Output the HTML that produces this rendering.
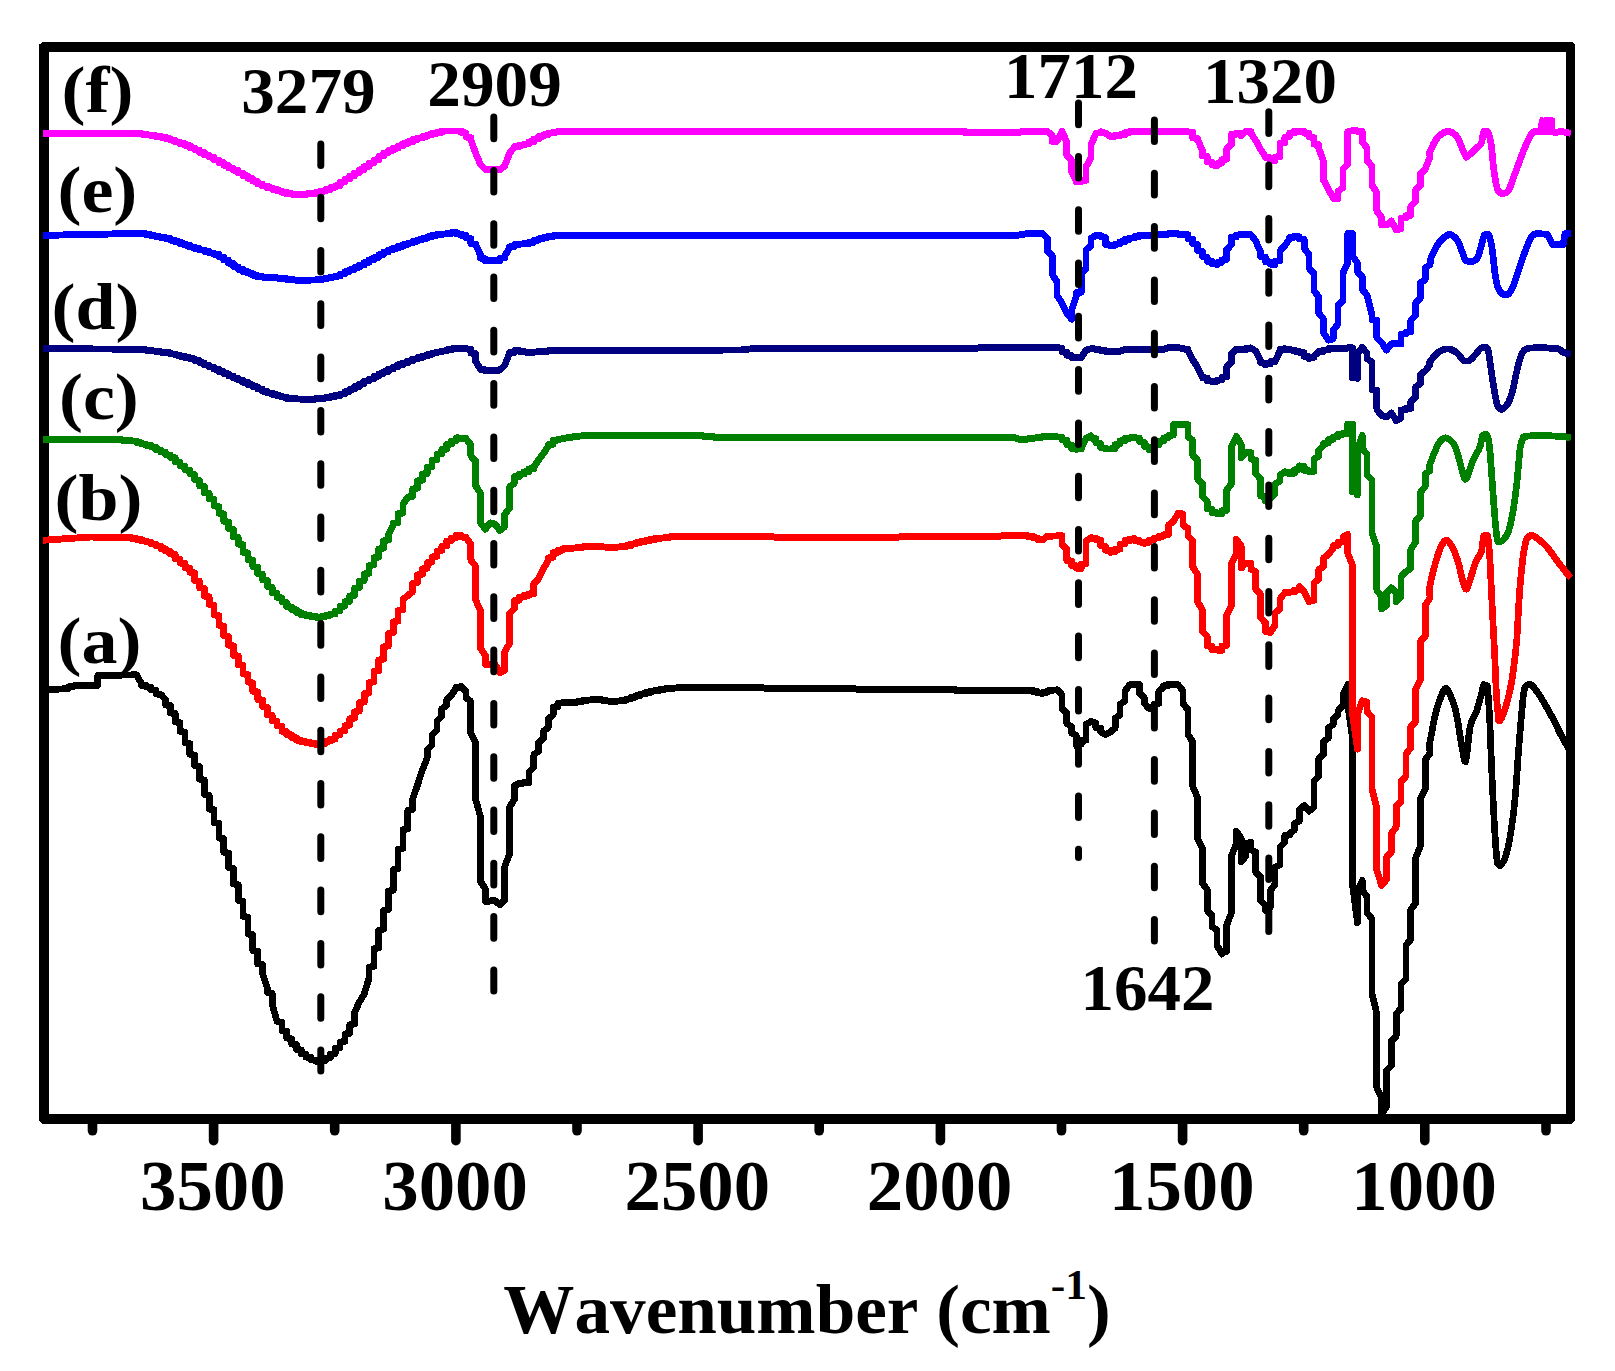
<!DOCTYPE html>
<html><head><meta charset="utf-8"><title>FTIR spectra</title>
<style>
html,body{margin:0;padding:0;background:#fff;}
svg{display:block;}
text{font-family:"Liberation Serif",serif;font-weight:bold;fill:#000;font-kerning:none;}
.c{shape-rendering:crispEdges;fill:none;stroke-width:6.7;stroke-linejoin:round;stroke-linecap:butt;}
.d{stroke:#000;stroke-width:7;fill:none;stroke-linecap:round}
.t{stroke:#000;stroke-width:9.6;stroke-linecap:round;}
</style></head><body>
<svg width="1615" height="1371" viewBox="0 0 1615 1371">
<rect x="0" y="0" width="1615" height="1371" fill="#fff"/>
<path shape-rendering="crispEdges" fill="#000" fill-rule="evenodd" d="M42.5 41.9H1572L1575 44.9V1120.8L1572 1123.8H42L39 1120.8V44.9ZM49 51.9V1113.9H1566.1V51.9Z"/>
<line class="t" x1="213.6" y1="1122" x2="213.6" y2="1140.7"/>
<line class="t" x1="455.9" y1="1122" x2="455.9" y2="1140.7"/>
<line class="t" x1="698.1" y1="1122" x2="698.1" y2="1140.7"/>
<line class="t" x1="940.4" y1="1122" x2="940.4" y2="1140.7"/>
<line class="t" x1="1182.6" y1="1122" x2="1182.6" y2="1140.7"/>
<line class="t" x1="1424.8" y1="1122" x2="1424.8" y2="1140.7"/>
<line class="t" x1="92.5" y1="1122" x2="92.5" y2="1130.8"/>
<line class="t" x1="334.7" y1="1122" x2="334.7" y2="1130.8"/>
<line class="t" x1="577.0" y1="1122" x2="577.0" y2="1130.8"/>
<line class="t" x1="819.2" y1="1122" x2="819.2" y2="1130.8"/>
<line class="t" x1="1061.5" y1="1122" x2="1061.5" y2="1130.8"/>
<line class="t" x1="1303.7" y1="1122" x2="1303.7" y2="1130.8"/>
<line class="t" x1="1546.0" y1="1122" x2="1546.0" y2="1130.8"/>
<g transform="scale(1 1.03)">
<polyline class="c" stroke="#000000" points="43,669.13 49.31,669.13 49.31,669.03 54.15,669.03 59,669.03 59,668.93 63.84,668.93 63.84,668.54 68.69,668.16 68.69,666.80 73.53,666.41 73.53,665.92 78.38,665.92 78.38,665.73 83.22,665.73 83.22,665.63 88.07,665.63 88.07,665.53 92.91,665.44 92.91,665.34 97.76,665.34 97.76,655.73 102.6,655.73 102.6,655.63 107.45,655.63 107.45,655.53 112.29,655.53 117.14,655.53 117.14,655.44 121.98,655.44 121.98,655.34 126.83,655.34 131.67,655.34 131.67,655.24 136.51,655.24 141.36,663.50 141.36,665.24 146.21,665.53 146.21,666.99 151.05,667.28 151.05,669.51 155.9,670.10 155.9,673.69 160.74,674.27 165.59,679.13 165.59,684.37 170.43,685.15 170.43,692.14 175.28,692.91 175.28,700.87 180.12,701.75 180.12,710.00 184.97,710.78 184.97,721.17 189.81,721.94 189.81,732.23 194.66,733.11 194.66,743.30 199.5,744.17 199.5,756.41 204.34,757.28 204.34,771.36 209.19,772.23 209.19,785.44 214.03,786.31 214.03,798.64 218.88,799.51 218.88,813.50 223.72,814.37 223.72,827.48 228.57,828.35 228.57,842.33 233.41,843.20 233.41,858.16 238.26,859.03 238.26,874.17 243.1,875.15 243.1,889.51 247.95,890.39 247.95,906.70 252.79,907.57 252.79,922.91 257.64,923.69 257.64,935.73 262.49,936.60 262.49,945.15 267.33,959.22 267.33,963.50 272.18,964.37 272.18,974.76 277.02,991.75 281.87,992.52 281.87,1000.39 286.71,1001.17 286.71,1007.77 291.56,1008.54 291.56,1013.50 296.4,1014.17 296.4,1018.83 301.25,1019.42 301.25,1023.01 306.09,1023.59 306.09,1026.31 310.94,1026.70 310.94,1028.83 315.78,1029.32 315.78,1030.29 320.62,1030.39 320.62,1030.68 320.62,1029.81 325.47,1029.51 325.47,1027.57 330.31,1026.99 330.31,1023.79 335.16,1023.01 335.16,1017.86 340,1017.09 340,1011.84 344.85,1011.07 344.85,1003.98 349.69,1003.11 349.69,994.95 354.54,994.08 354.54,983.01 359.38,972.82 364.23,965.05 369.07,949.51 369.07,939.03 373.92,938.16 373.92,921.17 378.76,920.29 378.76,903.11 383.61,902.14 383.61,884.08 388.45,883.20 388.45,865.24 393.3,864.27 393.3,844.37 398.14,843.50 398.14,824.56 402.99,823.69 402.99,805.63 407.83,804.76 407.83,786.60 412.68,785.73 412.68,775.73 417.52,762.14 422.37,747.57 427.21,735.92 427.21,727.96 432.06,723.20 432.06,713.59 436.9,708.74 436.9,700.29 441.75,695.44 441.75,688.25 446.6,684.66 446.6,679.81 451.44,675.05 456.28,667.77 456.28,667.28 461.13,667.09 461.13,666.60 465.97,671.36 465.97,677.38 470.82,681.07 470.82,712.33 475.66,720.78 475.66,776.21 480.51,793.11 480.51,855.73 485.35,862.91 485.35,874.95 485.35,874.85 490.2,874.85 490.2,874.66 495.04,874.56 495.04,874.47 499.89,878.54 504.73,873.79 504.73,841.26 509.58,829.22 509.58,783.50 514.42,776.21 514.42,763.01 519.27,760.58 519.27,760.39 524.12,760.29 524.12,759.81 528.96,759.71 528.96,749.71 533.81,744.95 533.81,732.82 538.65,729.22 538.65,720.78 543.5,717.18 543.5,709.90 548.34,706.31 548.34,697.86 553.18,694.27 553.18,686.50 558.03,686.02 558.03,682.82 562.88,682.23 562.88,682.14 567.72,682.04 567.72,681.94 572.57,681.94 572.57,681.84 577.41,681.75 577.41,681.26 582.25,681.17 582.25,680.39 587.1,680.29 587.1,679.71 591.94,679.51 591.94,678.93 596.79,678.83 596.79,678.64 596.79,679.13 601.63,679.22 601.63,679.81 606.48,680.00 606.48,680.58 611.33,680.78 611.33,681.07 611.33,680.87 616.17,680.87 616.17,680.58 621.01,680.49 621.01,680.29 625.86,680.00 625.86,678.83 630.7,678.54 630.7,677.09 635.55,676.80 635.55,675.63 640.39,675.34 640.39,673.88 645.24,673.69 645.24,672.52 650.09,672.23 650.09,671.07 654.93,670.87 654.93,670.29 659.77,670.19 659.77,669.61 664.62,669.42 664.62,668.74 669.46,668.54 669.46,668.25 674.31,668.16 674.31,667.96 679.15,667.86 679.15,667.57 684,667.48 684,667.28 688.85,667.28 693.69,667.28 698.53,667.28 703.38,667.28 708.22,667.28 713.07,667.28 717.91,667.28 722.76,667.28 727.61,667.28 732.45,667.28 737.29,667.28 742.14,667.28 746.99,667.28 751.83,667.28 756.67,667.28 761.52,667.28 766.37,668.54 771.21,668.54 776.05,668.54 780.9,668.54 780.9,668.45 785.75,668.45 790.59,668.45 795.43,668.45 800.28,668.45 805.12,668.45 809.97,668.45 809.97,668.35 814.81,668.35 819.66,668.35 824.5,668.35 829.35,668.35 834.19,668.35 839.04,668.35 839.04,668.25 843.88,668.25 848.73,668.25 853.57,668.25 858.42,669.51 863.26,669.51 868.11,669.51 872.95,669.51 877.8,669.42 882.64,669.42 887.49,669.42 892.33,669.42 897.18,669.42 902.02,669.42 906.87,669.42 906.87,669.32 911.71,669.32 916.56,669.32 921.4,669.32 926.25,669.32 931.09,669.32 935.94,669.32 935.94,669.22 940.78,669.22 945.63,669.22 950.47,669.22 955.32,669.22 955.32,670.19 960.16,670.19 965.01,670.19 969.85,670.19 974.7,670.19 979.54,670.19 984.39,670.19 989.24,670.19 994.08,670.19 998.92,670.19 1003.77,670.19 1008.62,670.19 1013.46,670.19 1018.3,670.19 1023.15,670.19 1027.99,670.19 1032.84,670.19 1032.84,671.36 1037.68,671.65 1037.68,672.72 1042.53,673.01 1042.53,673.30 1042.53,672.23 1047.38,671.94 1047.38,670.78 1052.22,670.58 1052.22,670.00 1057.07,669.81 1057.07,669.71 1061.91,674.47 1061.91,687.77 1066.76,692.52 1066.76,702.14 1071.6,705.83 1071.6,711.84 1076.44,714.17 1076.44,723.88 1076.44,722.82 1081.29,722.23 1081.29,718.93 1086.13,718.45 1086.13,703.40 1090.98,700.49 1095.82,702.14 1095.82,706.31 1100.67,707.09 1100.67,710.58 1105.51,713.01 1110.36,710.58 1115.2,706.99 1115.2,697.38 1120.05,693.79 1120.05,684.08 1124.89,680.49 1124.89,670.87 1129.74,664.85 1134.59,664.85 1139.43,664.85 1139.43,673.30 1144.28,676.89 1144.28,682.91 1149.12,687.77 1149.12,687.18 1153.96,686.60 1153.96,683.59 1158.81,682.91 1158.81,670.87 1163.65,667.28 1163.65,665.83 1168.5,665.44 1168.5,664.37 1168.5,664.47 1173.34,664.47 1173.34,664.76 1178.19,664.85 1183.03,670.87 1183.03,682.91 1187.88,688.93 1187.88,713.01 1192.72,720.19 1192.72,763.59 1197.57,774.37 1197.57,814.08 1202.41,823.79 1202.41,857.48 1207.26,863.50 1207.26,883.98 1212.11,888.74 1212.11,899.61 1216.95,903.20 1216.95,917.67 1221.8,926.12 1221.8,924.27 1226.64,923.79 1226.64,898.35 1231.48,886.31 1231.48,830.97 1236.33,818.93 1236.33,806.89 1241.17,814.08 1241.17,836.99 1246.02,830.97 1246.02,818.93 1250.87,817.77 1250.87,824.95 1255.71,827.38 1255.71,846.60 1260.55,851.46 1260.55,874.27 1265.4,879.13 1265.4,883.98 1270.24,881.55 1270.24,864.66 1275.09,858.64 1275.09,841.84 1279.93,839.42 1279.93,822.52 1284.78,817.77 1284.78,811.07 1289.62,810.68 1289.62,809.32 1294.47,805.73 1294.47,799.71 1299.32,797.28 1299.32,786.31 1304.16,782.23 1309,787.48 1313.85,783.88 1313.85,758.64 1318.69,753.79 1318.69,736.89 1323.54,732.14 1323.54,720.10 1328.38,716.50 1328.38,706.80 1333.23,703.20 1333.23,698.45 1338.08,693.59 1338.08,690.00 1342.92,685.15 1342.92,674.37 1347.76,664.66 1347.76,683.98 1352.61,717.67 1352.61,859.71 1357.45,895.83 1357.45,864.56 1362.3,854.95 1362.3,864.56 1367.14,870.58 1367.14,886.21 1371.99,892.23 1371.99,964.85 1376.84,984.17 1376.84,1056.31 1381.68,1066.02 1381.68,1081.55 1386.52,1074.47 1386.52,1039.51 1391.37,1034.66 1391.37,1010.68 1396.21,1005.83 1396.21,984.17 1401.06,979.32 1401.06,955.24 1405.9,950.49 1405.9,917.96 1410.75,911.94 1410.75,883.01 1415.6,876.99 1415.6,833.20 1420.44,821.17 1420.44,775.44 1425.28,765.83 1425.28,737.38 1430.13,731.17 1429.24,724.27 1430.5,717.67 1431.69,711.46 1432.92,705.15 1434.16,699.03 1435.4,693.59 1436.63,688.93 1437.87,684.85 1439.12,681.26 1440.4,677.96 1441.71,674.66 1443.06,671.55 1444.42,669.22 1445.8,668.35 1447.22,669.22 1448.67,671.55 1450.12,674.66 1451.5,677.96 1452.8,681.17 1454.04,684.56 1455.27,688.64 1456.5,693.59 1457.77,700.19 1459.05,707.96 1460.31,715.73 1461.5,722.43 1462.6,728.64 1463.64,734.76 1464.65,738.93 1465.7,739.32 1466.74,733.98 1467.78,724.47 1468.87,713.88 1470.1,705.63 1471.55,700.68 1473.16,697.38 1474.79,694.47 1476.3,691.17 1477.69,686.99 1479.03,682.43 1480.25,678.16 1481.3,674.37 1482.07,671.17 1482.63,668.35 1483.15,666.12 1483.8,664.66 1487.5,665.92 1489.5,693.59 1490.08,706.50 1490.69,721.94 1491.34,738.35 1492,753.79 1492.71,768.54 1493.45,783.40 1494.19,797.28 1494.9,809.13 1495.55,818.83 1496.18,826.89 1496.78,833.30 1497.4,838.06 1499.9,840.49 1500.98,839.61 1502.25,838.16 1503.6,836.12 1504.9,833.20 1506.13,829.61 1507.35,825.44 1508.57,820.29 1509.8,813.98 1511.07,806.41 1512.37,797.77 1513.64,788.16 1514.8,777.86 1515.82,766.60 1516.73,754.27 1517.61,741.65 1518.5,729.71 1519.45,717.96 1520.42,706.21 1521.36,695.34 1522.2,686.41 1522.85,679.81 1523.37,674.95 1523.93,671.26 1524.7,668.35 1525.78,666.21 1527.05,665.15 1528.4,664.76 1529.7,664.66 1530.87,664.85 1531.99,665.63 1533.19,666.80 1534.6,668.35 1536.24,670.39 1538.04,672.91 1540,675.83 1542.1,679.13 1544.41,682.91 1546.9,687.09 1549.47,691.46 1552,696.02 1554.5,700.78 1557.03,705.83 1559.51,710.68 1561.9,715.24 1564.36,719.51 1566.87,723.69 1569.06,727.18 1570.8,729.71"/>
<polyline class="c" stroke="#ff0000" points="43,524.37 49.31,524.27 49.31,524.08 54.15,523.98 54.15,523.69 59,523.59 59,523.40 63.84,523.30 63.84,523.01 68.69,522.91 68.69,522.72 73.53,522.62 73.53,522.33 78.38,522.33 78.38,522.04 83.22,521.94 83.22,521.65 88.07,521.65 88.07,521.36 92.91,521.36 92.91,521.46 97.76,521.46 97.76,521.55 102.6,521.55 102.6,521.65 107.45,521.65 107.45,521.75 112.29,521.75 112.29,521.84 117.14,521.84 117.14,521.94 121.98,521.94 121.98,522.04 126.83,522.04 131.67,522.14 131.67,522.62 136.51,522.82 136.51,523.69 141.36,523.88 141.36,525.05 146.21,525.24 146.21,526.12 151.05,526.31 151.05,527.86 155.9,528.25 155.9,529.90 160.74,530.29 160.74,532.43 165.59,532.82 165.59,534.95 170.43,535.34 170.43,537.86 175.28,538.45 175.28,542.23 180.12,542.82 180.12,546.60 184.97,547.18 184.97,550.97 189.81,551.55 189.81,555.44 194.66,556.31 194.66,563.50 199.5,564.27 199.5,570.68 204.34,571.46 204.34,578.74 209.19,579.51 209.19,586.80 214.03,587.57 214.03,596.89 218.88,597.77 218.88,607.09 223.72,607.86 223.72,617.18 228.57,618.06 228.57,626.31 233.41,627.09 233.41,636.21 238.26,636.99 238.26,645.24 243.1,646.12 243.1,654.17 247.95,654.95 247.95,662.14 252.79,663.01 252.79,670.97 257.64,671.84 257.64,678.93 262.49,679.71 262.49,686.02 267.33,686.80 267.33,693.88 272.18,694.66 272.18,699.51 277.02,700.19 277.02,704.37 281.87,705.05 281.87,709.81 286.71,710.49 286.71,713.01 291.56,713.50 291.56,715.83 296.4,716.31 296.4,718.54 301.25,719.03 301.25,720.00 306.09,720.19 306.09,720.87 310.94,721.07 310.94,721.84 315.78,721.94 315.78,722.72 320.62,722.82 320.62,723.20 320.62,722.04 325.47,721.65 325.47,719.81 330.31,719.42 330.31,717.86 335.16,717.48 335.16,714.08 340,713.50 340,709.81 344.85,709.22 344.85,704.56 349.69,703.98 349.69,697.96 354.54,697.18 354.54,691.07 359.38,690.29 359.38,682.33 364.23,681.55 364.23,673.59 369.07,672.72 369.07,662.82 373.92,662.04 373.92,651.94 378.76,651.07 378.76,640.87 383.61,640.00 383.61,627.96 388.45,627.09 388.45,614.95 393.3,614.08 393.3,603.79 398.14,602.91 398.14,592.82 402.99,591.94 402.99,582.04 412.68,574.37 412.68,566.31 417.52,565.53 417.52,558.25 422.37,557.48 422.37,552.33 427.21,551.55 427.21,546.41 432.06,545.63 432.06,540.78 436.9,540.00 436.9,535.15 441.75,534.47 441.75,530.58 446.6,529.90 446.6,525.44 451.44,524.76 451.44,522.43 456.28,522.04 456.28,519.71 461.13,520.00 461.13,521.36 465.97,521.55 465.97,522.14 470.82,528.16 470.82,543.79 475.66,549.81 475.66,582.33 480.51,593.20 480.51,629.22 485.35,636.50 485.35,644.95 490.2,644.95 495.04,644.95 499.89,653.30 504.73,650.97 504.73,632.91 509.58,624.47 509.58,595.53 514.42,590.78 514.42,583.01 519.27,582.62 519.27,579.90 524.12,579.61 524.12,578.25 528.96,577.96 528.96,576.60 533.81,576.31 533.81,566.70 538.65,561.84 543.5,552.23 548.34,543.79 548.34,541.65 553.18,540.87 553.18,536.60 558.03,536.21 558.03,534.47 562.88,534.08 562.88,532.91 567.72,532.82 567.72,532.43 572.57,532.33 572.57,532.04 577.41,531.94 577.41,531.46 582.25,531.36 582.25,530.97 587.1,530.87 587.1,530.58 591.94,530.58 591.94,530.29 596.79,530.19 596.79,530.10 596.79,530.39 601.63,530.49 601.63,530.97 606.48,531.07 606.48,531.46 611.33,531.55 611.33,531.75 611.33,531.55 616.17,531.46 616.17,531.17 621.01,531.07 621.01,530.78 625.86,530.68 625.86,530.00 630.7,529.81 630.7,528.35 635.55,528.16 635.55,526.99 640.39,526.80 640.39,525.83 645.24,525.63 645.24,524.95 650.09,524.76 650.09,523.88 654.93,523.69 654.93,523.01 659.77,522.82 659.77,522.43 664.62,522.33 664.62,521.84 669.46,521.75 669.46,521.26 674.31,521.17 674.31,521.07 679.15,520.97 679.15,520.87 684,520.78 684,520.68 688.85,520.68 693.69,520.68 698.53,520.68 703.38,520.68 708.22,520.68 713.07,520.68 717.91,520.68 722.76,520.68 727.61,520.68 732.45,520.68 737.29,520.68 742.14,520.68 746.99,520.68 751.83,520.68 756.67,520.68 761.52,520.68 766.37,520.68 771.21,520.68 776.05,521.84 780.9,521.84 785.75,521.84 790.59,521.84 795.43,521.84 800.28,521.84 805.12,521.84 809.97,521.84 814.81,521.84 819.66,521.84 824.5,521.84 829.35,521.84 834.19,521.84 839.04,521.84 843.88,521.84 848.73,521.84 853.57,521.84 858.42,521.84 863.26,521.84 868.11,521.84 872.95,521.84 877.8,521.84 882.64,521.84 887.49,521.84 892.33,521.84 897.18,521.84 902.02,520.78 906.87,520.78 911.71,520.78 916.56,520.78 921.4,520.78 926.25,520.78 931.09,520.78 935.94,520.78 940.78,520.78 945.63,520.78 950.47,520.78 955.32,520.78 960.16,520.78 965.01,520.78 969.85,520.78 974.7,520.78 979.54,520.78 984.39,520.78 989.24,520.78 994.08,520.78 998.92,520.78 1003.77,519.81 1008.62,519.90 1013.46,519.90 1013.46,520.00 1018.3,520.00 1018.3,520.10 1023.15,520.10 1023.15,520.19 1027.99,520.19 1027.99,520.78 1032.84,520.97 1032.84,522.14 1037.68,522.33 1037.68,523.69 1042.53,523.98 1042.53,524.27 1047.38,520.68 1047.38,520.58 1052.22,520.49 1052.22,520.39 1057.07,520.39 1057.07,520.19 1061.91,520.19 1061.91,529.13 1066.76,532.72 1066.76,544.08 1071.6,544.76 1071.6,548.83 1076.44,549.32 1076.44,551.55 1081.29,552.04 1081.29,547.86 1086.13,547.18 1086.13,525.53 1090.98,521.94 1090.98,522.43 1095.82,522.72 1095.82,523.98 1100.67,524.27 1100.67,529.90 1105.51,530.58 1105.51,534.08 1110.36,534.47 1110.36,536.31 1110.36,535.92 1115.2,535.53 1115.2,533.50 1120.05,533.11 1120.05,528.45 1124.89,527.67 1124.89,524.95 1129.74,524.76 1129.74,523.40 1134.59,523.11 1134.59,524.66 1139.43,524.95 1139.43,526.21 1144.28,526.50 1144.28,527.48 1144.28,526.70 1149.12,526.41 1149.12,524.56 1153.96,524.17 1153.96,522.52 1158.81,522.14 1158.81,520.87 1163.65,520.58 1163.65,519.32 1168.5,519.03 1168.5,509.90 1173.34,506.21 1178.19,498.35 1183.03,499.03 1183.03,509.90 1187.88,513.01 1187.88,520.19 1192.72,525.05 1192.72,550.29 1197.57,557.57 1197.57,583.98 1202.41,592.43 1202.41,612.91 1207.26,617.77 1207.26,627.18 1212.11,627.77 1212.11,630.58 1216.95,630.68 1216.95,631.17 1221.8,631.36 1221.8,631.46 1221.8,627.28 1226.64,626.60 1226.64,597.28 1231.48,587.67 1231.48,546.70 1236.33,538.25 1236.33,523.79 1241.17,529.81 1241.17,551.55 1246.02,546.70 1250.87,546.70 1250.87,552.72 1255.71,555.15 1255.71,571.94 1260.55,576.80 1260.55,599.71 1265.4,604.47 1265.4,612.91 1270.24,614.08 1275.09,606.89 1275.09,594.85 1279.93,591.26 1279.93,581.65 1284.78,575.63 1284.78,575.34 1289.62,575.24 1289.62,574.76 1294.47,574.66 1294.47,572.91 1299.32,572.43 1299.32,569.61 1304.16,574.37 1309,583.98 1313.85,582.82 1313.85,565.92 1318.69,562.33 1318.69,552.72 1323.54,550.29 1323.54,541.84 1328.38,538.25 1333.23,532.23 1333.23,529.90 1338.08,529.42 1338.08,526.70 1342.92,526.21 1342.92,521.46 1347.76,519.03 1347.76,537.09 1352.61,549.13 1352.61,693.59 1357.45,727.28 1357.45,693.59 1362.3,680.39 1367.14,681.55 1367.14,691.17 1371.99,696.02 1371.99,765.83 1376.84,785.05 1376.84,845.24 1381.68,859.71 1386.52,853.69 1386.52,832.04 1391.37,827.18 1391.37,809.13 1396.21,803.11 1396.21,782.72 1401.06,777.86 1401.06,758.64 1405.9,753.79 1405.9,732.14 1410.75,726.12 1410.75,705.63 1415.6,700.78 1415.6,669.51 1420.44,659.90 1420.44,622.52 1425.28,617.77 1425.28,587.48 1430.13,580.39 1429.24,572.62 1430.5,565.92 1431.69,560.49 1432.92,555.53 1434.16,550.97 1435.4,546.70 1436.63,542.62 1437.87,538.74 1439.12,535.24 1440.4,532.23 1441.71,529.51 1443.06,527.18 1444.42,525.44 1445.8,524.56 1447.19,524.76 1448.6,525.83 1450.03,527.57 1451.5,529.81 1453.04,532.62 1454.64,536.12 1456.22,540.10 1457.7,544.27 1459.06,549.03 1460.36,554.27 1461.57,559.42 1462.7,563.59 1463.69,566.99 1464.55,569.81 1465.41,571.65 1466.4,571.94 1467.56,570.19 1468.83,566.80 1470.13,562.62 1471.4,558.74 1472.63,555.05 1473.85,551.17 1475.07,547.48 1476.3,544.27 1477.6,541.94 1478.95,540.10 1480.22,538.35 1481.3,535.83 1482.07,532.04 1482.63,527.48 1483.15,523.20 1483.8,520.19 1487.5,520.19 1488.22,524.08 1488.86,529.71 1489.44,536.50 1490,544.27 1492,585.24 1492.69,598.54 1493.47,613.30 1494.25,627.96 1494.9,640.78 1496.5,676.70 1498.7,699.61 1499.97,699.61 1501.55,697.09 1503.26,693.20 1504.9,688.74 1506.5,683.79 1508.12,677.86 1509.69,671.36 1511.1,664.66 1512.35,657.48 1513.49,649.61 1514.49,642.14 1515.3,635.83 1516.8,621.36 1517.41,611.36 1518.11,598.64 1518.88,585.15 1519.7,573.20 1520.62,562.72 1521.63,552.91 1522.63,544.17 1523.5,537.09 1525.9,525.05 1526.94,523.01 1528.16,521.46 1529.5,520.29 1530.9,519.71 1532.28,519.71 1533.69,520.29 1535.26,521.26 1537.1,522.62 1539.31,524.27 1541.82,526.21 1544.44,528.45 1547,531.07 1549.39,533.98 1551.71,537.18 1554.16,540.58 1556.9,544.27 1560.38,548.64 1564.37,553.59 1568.05,558.06 1570.8,561.17"/>
<polyline class="c" stroke="#008000" points="43,426.99 49.31,426.99 49.31,426.89 54.15,426.89 59,426.89 63.84,426.89 63.84,426.80 68.69,426.80 73.53,426.80 78.38,426.80 78.38,426.70 83.22,426.70 88.07,426.70 92.91,426.70 92.91,426.60 97.76,426.60 102.6,426.60 107.45,426.60 107.45,426.50 112.29,426.50 117.14,426.60 117.14,426.89 121.98,426.99 121.98,427.38 126.83,427.38 126.83,427.77 131.67,427.86 131.67,428.16 136.51,428.25 136.51,429.61 141.36,429.90 141.36,430.97 146.21,431.26 146.21,432.33 151.05,432.62 151.05,433.98 155.9,434.27 155.9,436.50 160.74,436.99 160.74,438.74 165.59,439.22 165.59,441.46 170.43,441.94 170.43,444.17 175.28,444.56 175.28,448.06 180.12,448.64 180.12,452.33 184.97,452.91 184.97,455.92 189.81,456.50 189.81,460.10 194.66,460.78 194.66,465.63 199.5,466.41 199.5,471.55 204.34,472.33 204.34,478.25 209.19,479.03 209.19,484.17 214.03,484.95 214.03,491.17 218.88,491.94 218.88,498.25 223.72,499.03 223.72,506.12 228.57,506.89 228.57,513.30 233.41,514.08 233.41,521.17 238.26,521.94 238.26,528.25 243.1,529.03 243.1,536.12 247.95,536.89 247.95,543.11 252.79,543.79 252.79,550.00 257.64,550.78 257.64,556.89 262.49,557.57 262.49,562.82 267.33,563.50 267.33,569.42 272.18,570.19 272.18,575.24 277.02,575.83 277.02,579.81 281.87,580.49 281.87,584.37 286.71,585.05 286.71,588.83 291.56,589.32 291.56,591.65 296.4,592.14 296.4,594.47 301.25,594.95 301.25,596.80 306.09,596.99 306.09,597.67 310.94,597.86 310.94,598.45 315.78,598.54 315.78,599.13 320.62,599.32 320.62,599.61 320.62,598.83 325.47,598.54 325.47,597.57 330.31,597.28 330.31,596.31 335.16,596.02 335.16,593.59 340,592.91 340,588.93 344.85,588.35 344.85,584.37 349.69,583.69 349.69,578.74 354.54,578.06 354.54,571.17 359.38,570.39 359.38,564.27 364.23,563.50 364.23,557.28 369.07,556.50 369.07,549.22 373.92,548.45 373.92,541.46 378.76,540.78 378.76,533.01 383.61,532.23 383.61,525.05 388.45,524.27 388.45,519.42 393.3,509.71 393.3,508.06 398.14,507.18 398.14,498.83 402.99,498.06 402.99,489.71 407.83,482.52 412.68,481.75 412.68,474.76 417.52,473.98 417.52,466.99 422.37,466.21 422.37,460.29 427.21,459.61 427.21,453.69 432.06,452.91 432.06,446.99 436.9,446.21 436.9,441.07 441.75,440.29 441.75,436.60 446.6,436.02 446.6,431.65 451.44,431.07 451.44,428.35 456.28,427.86 456.28,425.15 461.13,425.24 461.13,425.53 465.97,425.63 465.97,425.83 470.82,431.84 470.82,442.72 475.66,447.48 475.66,471.55 480.51,478.83 480.51,507.67 485.35,513.69 490.2,507.67 495.04,508.93 499.89,514.95 504.73,511.26 504.73,499.22 509.58,493.20 509.58,472.82 514.42,469.13 514.42,462.72 519.27,462.43 519.27,460.58 524.12,460.19 524.12,458.16 528.96,457.67 528.96,455.34 533.81,454.85 533.81,453.50 538.65,446.31 543.5,440.29 548.34,433.01 548.34,431.75 553.18,431.17 553.18,427.48 558.03,427.28 558.03,426.31 562.88,426.12 562.88,425.44 567.72,425.24 567.72,424.56 572.57,424.47 572.57,424.08 577.41,423.98 577.41,423.40 582.25,423.30 582.25,422.91 587.1,422.82 587.1,422.72 591.94,422.72 596.79,422.72 601.63,422.72 606.48,422.72 611.33,422.72 616.17,422.72 621.01,422.72 625.86,422.72 630.7,422.72 635.55,422.72 640.39,422.72 645.24,422.72 650.09,422.72 654.93,422.72 659.77,422.72 664.62,422.72 669.46,422.72 674.31,422.72 679.15,422.72 684,422.72 688.85,422.72 693.69,422.72 698.53,422.72 698.53,423.01 703.38,423.11 703.38,423.50 708.22,423.59 708.22,423.88 713.07,423.98 713.07,424.37 717.91,424.47 717.91,424.66 722.76,424.66 727.61,424.66 732.45,424.66 732.45,424.56 737.29,424.56 742.14,424.56 746.99,424.56 751.83,424.56 756.67,424.56 756.67,424.47 761.52,424.47 766.37,424.47 771.21,424.47 776.05,424.47 780.9,424.47 785.75,424.47 785.75,424.37 790.59,424.37 795.43,424.37 800.28,424.37 805.12,424.37 809.97,424.37 814.81,424.37 819.66,424.37 824.5,424.37 829.35,424.37 834.19,424.37 839.04,424.37 843.88,424.37 848.73,424.37 853.57,424.37 858.42,424.37 863.26,424.37 868.11,424.37 872.95,424.37 877.8,424.37 882.64,424.37 887.49,424.37 892.33,424.37 897.18,424.37 902.02,424.37 906.87,424.37 911.71,424.37 916.56,424.37 921.4,424.37 926.25,424.37 931.09,424.37 935.94,424.37 940.78,424.37 945.63,424.37 950.47,424.37 955.32,424.37 960.16,424.37 965.01,424.37 969.85,424.37 974.7,424.37 979.54,424.37 984.39,424.37 989.24,424.37 994.08,424.37 998.92,424.37 1003.77,424.37 1008.62,424.37 1013.46,424.37 1018.3,426.31 1023.15,426.31 1027.99,426.31 1027.99,426.02 1032.84,425.83 1032.84,425.24 1037.68,425.15 1037.68,424.47 1042.53,424.37 1042.53,423.88 1042.53,423.98 1047.38,423.98 1047.38,424.08 1052.22,424.08 1052.22,424.17 1057.07,424.17 1057.07,424.27 1061.91,424.37 1061.91,426.80 1066.76,427.38 1066.76,431.46 1071.6,432.04 1071.6,435.34 1076.44,435.83 1076.44,436.41 1076.44,436.02 1081.29,435.83 1081.29,435.24 1086.13,425.63 1090.98,423.20 1090.98,425.34 1095.82,425.83 1095.82,430.00 1100.67,430.58 1100.67,434.56 1105.51,435.24 1105.51,435.92 1110.36,435.92 1115.2,435.34 1115.2,431.65 1120.05,431.07 1120.05,428.06 1124.89,427.67 1124.89,425.63 1129.74,425.53 1129.74,425.05 1134.59,424.85 1134.59,424.37 1134.59,424.95 1139.43,425.44 1139.43,428.74 1144.28,429.32 1144.28,433.40 1149.12,433.98 1149.12,436.41 1149.12,435.44 1153.96,434.95 1153.96,432.14 1158.81,431.65 1158.81,428.64 1163.65,428.06 1163.65,425.24 1168.5,424.85 1168.5,422.72 1173.34,422.33 1173.34,412.33 1178.19,412.33 1183.03,412.33 1187.88,412.33 1187.88,423.88 1192.72,427.57 1192.72,441.94 1197.57,446.80 1197.57,464.85 1202.41,469.71 1202.41,481.75 1207.26,486.50 1207.26,493.79 1212.11,494.37 1212.11,497.57 1216.95,497.77 1216.95,498.64 1221.8,498.83 1221.8,499.03 1221.8,496.02 1226.64,495.44 1226.64,475.73 1231.48,469.71 1231.48,433.59 1236.33,423.88 1241.17,431.17 1241.17,444.37 1246.02,439.61 1250.87,439.61 1250.87,445.63 1255.71,446.80 1255.71,460.00 1260.55,464.85 1260.55,481.46 1265.4,482.23 1265.4,486.50 1270.24,484.08 1275.09,479.32 1275.09,469.71 1279.93,467.28 1279.93,461.26 1284.78,458.06 1284.78,458.83 1289.62,459.03 1289.62,460.00 1294.47,459.42 1294.47,456.21 1299.32,455.63 1299.32,452.33 1304.16,452.91 1304.16,456.50 1309,457.09 1309,457.67 1313.85,457.67 1313.85,445.63 1318.69,443.20 1318.69,437.18 1323.54,432.33 1323.54,430.68 1328.38,430.10 1328.38,426.89 1333.23,426.31 1333.23,424.37 1338.08,423.88 1338.08,421.94 1342.92,421.55 1342.92,420.87 1347.76,420.68 1347.76,411.84 1352.61,411.84 1352.61,477.67 1352.61,427.18 1357.45,480.49 1357.45,435.92 1362.3,422.72 1362.3,435.92 1367.14,440.78 1367.14,461.26 1371.99,466.02 1371.99,517.77 1376.84,531.07 1376.84,573.20 1381.68,579.22 1381.68,591.26 1386.52,587.67 1386.52,575.63 1391.37,570.78 1396.21,575.63 1396.21,583.98 1401.06,579.22 1401.06,559.90 1405.9,555.15 1410.75,551.55 1410.75,533.50 1415.6,526.21 1415.6,505.73 1420.44,500.97 1420.44,478.06 1425.28,472.04 1425.28,460.00 1430.13,456.89 1429.41,452.43 1431.2,447.57 1432.9,443.20 1434.45,439.42 1436,435.83 1437.55,432.52 1439.1,429.90 1440.62,427.86 1442.12,426.41 1443.66,425.44 1445.3,425.15 1447.14,425.53 1449.13,426.50 1451.08,428.06 1452.8,429.90 1454.21,432.04 1455.41,434.47 1456.53,437.38 1457.7,440.78 1458.97,445.05 1460.28,450.10 1461.54,454.95 1462.7,458.83 1463.66,461.75 1464.47,464.08 1465.33,465.24 1466.4,464.85 1467.74,462.14 1469.26,457.67 1470.9,452.52 1472.6,447.96 1474.5,444.08 1476.59,440.39 1478.55,436.89 1480.1,433.59 1482.5,422.72 1486.3,421.55 1487.15,423.01 1487.95,425.05 1488.73,428.45 1489.5,433.59 1490.27,441.36 1491.02,451.36 1491.76,461.94 1492.5,472.04 1493.24,481.65 1493.98,491.36 1494.71,500.49 1495.4,508.16 1496.01,514.37 1496.55,519.51 1497.14,523.50 1497.9,526.21 1502.4,525.05 1503.86,523.50 1505.47,521.55 1507.1,518.93 1508.6,515.44 1509.94,510.97 1511.2,505.73 1512.38,499.90 1513.5,493.69 1514.56,486.89 1515.56,479.61 1516.47,472.04 1517.3,464.85 1519.7,438.35 1520.26,434.37 1520.79,431.55 1521.4,429.42 1522.2,427.57 1522.7,425.92 1523,424.85 1524.15,423.98 1527.2,423.40 1533.26,423.11 1541.51,423.01 1550.02,423.20 1556.9,423.40 1561.77,423.79 1565.61,424.27 1568.51,424.76 1570.8,425.15"/>
<polyline class="c" stroke="#000080" points="43,338.54 49.31,338.54 54.15,338.54 54.15,338.64 59,338.64 63.84,338.64 68.69,338.64 73.53,338.64 73.53,338.74 78.38,338.74 83.22,338.74 88.07,338.74 92.91,338.74 92.91,338.83 97.76,338.83 102.6,338.83 107.45,338.83 112.29,338.83 112.29,338.93 117.14,338.93 121.98,338.93 126.83,338.93 131.67,338.93 131.67,339.03 136.51,339.03 141.36,339.03 141.36,339.51 146.21,339.61 146.21,340.10 151.05,340.19 151.05,340.68 155.9,340.78 155.9,341.26 160.74,341.46 160.74,341.84 165.59,342.04 165.59,342.52 170.43,342.62 170.43,343.59 175.28,343.79 175.28,344.66 180.12,344.95 180.12,345.83 184.97,346.02 184.97,347.09 189.81,347.28 189.81,348.16 194.66,348.45 194.66,349.81 199.5,350.10 199.5,352.04 204.34,352.43 204.34,354.27 209.19,354.66 209.19,356.12 214.03,356.50 214.03,358.35 218.88,358.74 218.88,360.68 223.72,360.97 223.72,362.52 228.57,362.91 228.57,364.76 233.41,365.15 233.41,366.99 238.26,367.38 238.26,368.93 243.1,369.22 243.1,371.17 247.95,371.46 247.95,373.40 252.79,373.69 252.79,375.24 257.64,375.63 257.64,377.48 262.49,377.86 262.49,379.71 267.33,380.10 267.33,381.46 272.18,381.65 272.18,382.91 277.02,383.20 277.02,384.17 281.87,384.47 281.87,385.44 286.71,385.73 286.71,386.80 291.56,386.80 291.56,387.09 296.4,387.09 296.4,387.38 301.25,387.38 301.25,387.67 306.09,387.77 306.09,387.96 310.94,387.86 310.94,387.57 315.78,387.48 315.78,387.09 320.62,387.09 320.62,386.60 325.47,386.50 325.47,386.21 330.31,386.02 330.31,385.24 335.16,385.05 335.16,384.08 340,383.88 340,382.72 344.85,382.33 344.85,380.49 349.69,380.10 349.69,378.16 354.54,377.67 354.54,375.44 359.38,375.05 359.38,372.82 364.23,372.33 364.23,370.10 369.07,369.71 369.07,368.06 373.92,367.67 373.92,365.53 378.76,365.15 378.76,363.11 383.61,362.62 383.61,360.97 388.45,360.58 388.45,358.54 393.3,358.16 393.3,356.31 398.14,356.02 398.14,354.17 402.99,353.79 402.99,352.43 407.83,352.14 407.83,350.58 412.68,350.19 412.68,348.64 417.52,348.35 417.52,347.28 422.37,346.99 422.37,345.92 427.21,345.63 427.21,344.27 432.06,343.98 432.06,342.91 436.9,342.62 436.9,341.84 441.75,341.65 441.75,340.87 446.6,340.68 446.6,339.71 451.44,339.51 451.44,338.74 456.28,338.54 461.13,338.54 465.97,338.54 470.82,339.13 470.82,342.72 475.66,343.30 475.66,351.07 480.51,358.35 480.51,358.83 485.35,359.13 485.35,360.19 485.35,360.10 490.2,360.10 490.2,359.81 495.04,359.71 495.04,359.42 499.89,359.32 499.89,359.03 504.73,354.66 509.58,342.72 509.58,342.33 514.42,342.04 514.42,340.29 519.27,340.49 519.27,341.07 524.12,341.17 524.12,341.75 528.96,341.94 528.96,342.23 528.96,342.04 533.81,342.04 533.81,341.75 538.65,341.65 538.65,341.36 543.5,341.26 543.5,340.97 548.34,340.87 548.34,340.58 553.18,340.49 553.18,340.29 558.03,340.29 562.88,340.29 567.72,340.29 572.57,340.29 572.57,340.19 577.41,340.19 582.25,340.19 587.1,340.19 591.94,340.19 596.79,340.19 601.63,340.19 606.48,340.19 611.33,340.19 611.33,340.10 616.17,340.10 621.01,340.10 625.86,340.10 630.7,340.10 635.55,340.10 640.39,340.10 645.24,340.10 650.09,340.00 654.93,340.00 659.77,340.00 664.62,340.00 669.46,340.00 674.31,340.00 679.15,340.00 684,340.00 684,339.90 688.85,339.90 693.69,339.90 698.53,339.90 703.38,339.90 708.22,339.90 713.07,339.90 717.91,339.90 722.76,339.90 722.76,339.81 727.61,339.81 732.45,339.81 737.29,339.81 742.14,339.81 742.14,339.61 746.99,339.42 746.99,338.93 751.83,338.74 751.83,338.54 756.67,338.54 761.52,338.54 766.37,338.54 771.21,338.54 776.05,338.54 780.9,338.54 785.75,338.54 790.59,338.54 795.43,338.54 800.28,338.54 805.12,338.54 809.97,338.54 814.81,338.54 819.66,338.54 824.5,338.54 829.35,338.54 834.19,338.54 839.04,338.54 843.88,338.54 848.73,338.54 853.57,338.54 858.42,338.54 863.26,338.54 863.26,338.64 868.11,338.64 872.95,338.64 877.8,338.64 882.64,338.64 887.49,338.64 892.33,338.64 897.18,338.64 902.02,338.64 906.87,338.64 911.71,338.64 916.56,338.64 921.4,338.64 926.25,338.64 931.09,338.64 935.94,338.64 940.78,338.64 945.63,338.64 950.47,338.64 955.32,338.64 960.16,338.64 965.01,338.64 969.85,338.64 974.7,338.64 979.54,337.48 984.39,337.48 989.24,337.48 994.08,337.48 998.92,337.48 1003.77,337.48 1008.62,337.48 1013.46,337.48 1018.3,337.48 1023.15,337.48 1027.99,337.48 1032.84,337.48 1037.68,337.48 1042.53,337.48 1047.38,337.48 1052.22,337.48 1057.07,337.48 1061.91,338.06 1061.91,341.55 1066.76,342.14 1066.76,344.85 1071.6,345.34 1071.6,347.09 1076.44,347.09 1081.29,347.09 1086.13,339.90 1090.98,338.64 1095.82,338.83 1095.82,339.51 1100.67,339.71 1100.67,340.29 1105.51,340.49 1105.51,341.07 1110.36,341.07 1115.2,341.07 1120.05,341.07 1124.89,339.13 1129.74,339.13 1134.59,339.13 1139.43,339.13 1144.28,339.13 1149.12,339.13 1153.96,339.13 1158.81,339.13 1163.65,339.13 1168.5,337.48 1168.5,337.57 1173.34,337.57 1173.34,337.67 1178.19,337.67 1178.19,337.77 1183.03,337.96 1183.03,338.83 1187.88,339.03 1187.88,339.61 1192.72,349.32 1197.57,356.50 1202.41,366.12 1202.41,366.60 1207.26,367.09 1207.26,369.51 1212.11,370.00 1212.11,370.49 1212.11,370.19 1216.95,370.10 1216.95,369.22 1221.8,368.74 1221.8,366.41 1226.64,365.92 1226.64,356.50 1231.48,351.65 1231.48,343.30 1236.33,339.13 1236.33,339.32 1241.17,339.42 1241.17,339.61 1246.02,339.42 1246.02,338.45 1250.87,338.25 1250.87,337.77 1255.71,340.87 1260.55,350.49 1260.55,352.04 1265.4,352.52 1265.4,354.08 1265.4,353.69 1270.24,353.30 1270.24,351.26 1275.09,350.87 1275.09,350.49 1279.93,340.87 1279.93,339.51 1284.78,339.22 1284.78,338.45 1284.78,338.83 1289.62,339.03 1289.62,339.81 1294.47,340.00 1294.47,340.87 1299.32,341.07 1299.32,342.04 1304.16,342.62 1304.16,345.83 1309,346.41 1309,348.06 1309,347.38 1313.85,346.99 1313.85,345.63 1318.69,342.04 1318.69,341.36 1323.54,341.07 1323.54,339.90 1328.38,339.61 1328.38,338.64 1333.23,338.45 1333.23,338.35 1338.08,338.25 1338.08,338.16 1342.92,338.16 1342.92,337.96 1347.76,337.96 1347.76,337.77 1352.61,337.77 1352.61,366.99 1352.61,341.75 1357.45,367.38 1357.45,343.30 1362.3,337.28 1367.14,343.30 1367.14,348.06 1371.99,351.65 1371.99,378.45 1376.84,379.03 1376.84,397.48 1381.68,403.50 1386.52,404.66 1391.37,401.07 1396.21,408.25 1401.06,405.83 1401.06,398.06 1405.9,397.86 1405.9,396.80 1410.75,396.50 1410.75,390.19 1415.6,385.44 1415.6,375.73 1420.44,372.14 1420.44,363.69 1425.28,360.10 1430.13,354.08 1429.33,352.23 1431.23,349.61 1433.37,346.80 1435.4,344.47 1437.27,342.82 1439.15,341.46 1441.03,340.39 1442.9,339.61 1444.76,339.03 1446.61,338.83 1448.45,338.83 1450.3,339.13 1452.18,339.81 1454.08,340.78 1455.93,341.94 1457.7,343.30 1459.36,345.05 1460.95,347.18 1462.46,349.13 1463.9,350.49 1468.9,350.49 1470.64,349.13 1472.6,347.28 1474.56,345.15 1476.3,343.30 1477.69,341.65 1478.87,340.00 1480.02,338.64 1481.3,337.77 1482.85,337.18 1484.56,336.89 1486.18,337.28 1487.5,338.45 1488.36,340.58 1488.91,343.59 1489.38,347.28 1490,351.65 1490.84,357.09 1491.77,363.40 1492.75,369.90 1493.7,375.73 1494.62,380.97 1495.55,386.02 1496.48,390.39 1497.4,393.79 1501.1,397.48 1502.5,396.99 1504.12,396.02 1505.78,394.56 1507.3,392.62 1508.66,390.19 1509.96,387.38 1511.17,384.08 1512.3,380.58 1513.29,376.70 1514.15,372.52 1515.01,368.16 1516,363.69 1517.16,359.03 1518.42,353.98 1519.73,349.32 1521,345.63 1522.14,343.11 1523.22,341.36 1524.41,340.10 1525.9,339.13 1527.49,338.35 1529.16,337.96 1531.38,337.86 1534.6,337.77 1539.6,337.77 1545.91,337.77 1552.14,338.06 1556.9,338.45 1559.55,339.22 1560.93,340.19 1561.84,341.17 1563.1,342.04 1565.06,342.62 1567.24,343.11 1569.22,343.50 1570.8,343.79"/>
<polyline class="c" stroke="#0000ff" points="43,228.45 49.31,228.45 49.31,228.35 54.15,228.35 54.15,228.25 59,228.25 59,228.16 63.84,228.16 63.84,228.06 68.69,228.06 68.69,227.96 73.53,227.96 73.53,227.86 78.38,227.86 78.38,227.77 83.22,227.77 83.22,227.67 88.07,227.67 88.07,227.57 92.91,227.57 92.91,227.48 97.76,227.48 97.76,227.38 102.6,227.38 102.6,227.28 107.45,227.28 107.45,227.18 112.29,227.18 112.29,227.09 117.14,227.09 121.98,227.09 126.83,227.09 131.67,227.09 136.51,227.09 141.36,227.09 146.21,227.09 146.21,227.77 151.05,227.96 151.05,228.93 155.9,229.03 155.9,229.81 160.74,230.00 160.74,230.68 165.59,230.87 165.59,231.55 170.43,231.75 170.43,233.11 175.28,233.50 175.28,234.66 180.12,234.95 180.12,236.50 184.97,236.80 184.97,237.96 189.81,238.25 189.81,239.81 194.66,240.10 194.66,241.17 199.5,241.46 199.5,242.52 204.34,242.82 204.34,244.08 209.19,244.37 209.19,245.44 214.03,245.73 214.03,246.80 218.88,247.09 218.88,249.13 223.72,249.71 223.72,252.33 228.57,252.82 228.57,255.53 233.41,256.02 233.41,258.64 238.26,259.22 238.26,261.46 243.1,261.75 243.1,263.50 247.95,263.79 247.95,265.15 252.79,265.53 252.79,267.18 257.64,267.57 257.64,268.64 262.49,268.64 262.49,269.03 267.33,269.03 267.33,269.32 272.18,269.42 272.18,269.61 277.02,269.71 277.02,270.00 281.87,270.10 281.87,270.58 286.71,270.68 286.71,271.17 291.56,271.26 291.56,271.75 296.4,271.84 296.4,272.33 301.25,272.33 301.25,272.14 306.09,272.14 306.09,272.04 310.94,271.94 310.94,271.84 315.78,271.84 315.78,271.75 320.62,271.75 320.62,271.07 325.47,270.87 325.47,270.10 330.31,269.90 330.31,269.13 335.16,268.93 335.16,268.16 340,267.96 340,266.12 344.85,265.73 344.85,263.88 349.69,263.50 349.69,262.04 354.54,261.65 354.54,259.81 359.38,259.42 359.38,257.57 364.23,257.18 364.23,254.95 369.07,254.56 369.07,252.33 373.92,251.94 373.92,250.10 378.76,249.71 378.76,247.48 383.61,247.09 383.61,244.85 388.45,244.47 388.45,242.72 393.3,242.43 393.3,241.17 398.14,240.87 398.14,239.32 402.99,239.03 402.99,237.57 407.83,237.28 407.83,236.12 412.68,235.83 412.68,234.37 417.52,234.08 417.52,233.01 422.37,232.72 422.37,231.65 427.21,231.36 427.21,230.00 432.06,229.71 432.06,228.64 436.9,228.35 436.9,227.86 441.75,227.77 441.75,227.28 446.6,227.18 446.6,226.60 451.44,226.50 451.44,226.02 456.28,225.92 456.28,226.99 461.13,227.18 461.13,228.45 465.97,228.74 465.97,230.87 470.82,231.65 470.82,236.60 475.66,237.28 475.66,237.96 480.51,247.57 480.51,250.68 485.35,251.26 485.35,253.11 490.2,253.11 495.04,253.11 499.89,253.11 499.89,250.87 504.73,250.39 504.73,248.74 509.58,240.39 509.58,239.61 514.42,239.32 514.42,237.48 519.27,237.38 519.27,236.99 524.12,236.89 524.12,236.50 528.96,236.41 528.96,235.53 533.81,235.15 533.81,233.50 538.65,233.20 538.65,231.84 543.5,231.46 543.5,230.49 548.34,230.29 548.34,229.61 553.18,229.42 553.18,228.83 558.03,228.83 562.88,228.83 567.72,228.83 572.57,228.83 577.41,228.83 582.25,228.83 587.1,228.83 591.94,228.83 596.79,228.83 601.63,228.83 606.48,228.83 611.33,228.83 616.17,228.83 621.01,228.83 625.86,228.83 630.7,228.83 635.55,228.83 640.39,228.83 645.24,228.83 650.09,228.83 654.93,228.83 659.77,228.83 664.62,228.83 669.46,228.83 674.31,228.83 679.15,228.83 684,228.83 688.85,228.83 693.69,228.83 698.53,228.83 703.38,228.83 708.22,228.83 713.07,228.83 717.91,228.83 722.76,228.83 727.61,228.83 732.45,228.83 737.29,228.83 742.14,228.83 746.99,228.83 751.83,228.83 756.67,228.83 761.52,228.83 766.37,228.83 771.21,228.83 776.05,228.83 780.9,228.83 785.75,228.83 790.59,228.83 795.43,228.83 800.28,228.83 805.12,228.83 809.97,228.83 814.81,228.83 819.66,228.83 824.5,228.74 829.35,228.74 834.19,228.74 839.04,228.74 843.88,228.74 848.73,228.74 853.57,228.74 858.42,228.74 863.26,228.74 868.11,228.74 868.11,228.64 872.95,228.64 877.8,228.64 882.64,228.64 887.49,228.64 892.33,228.64 897.18,228.64 902.02,228.64 906.87,228.64 911.71,228.64 911.71,228.54 916.56,228.54 921.4,228.54 926.25,228.54 931.09,228.54 935.94,228.54 940.78,228.54 945.63,228.54 950.47,228.54 955.32,228.54 955.32,228.45 960.16,228.45 965.01,228.45 969.85,228.45 974.7,228.45 979.54,228.45 984.39,228.45 989.24,228.45 994.08,228.45 998.92,228.45 998.92,228.35 1003.77,228.35 1008.62,228.35 1013.46,228.35 1018.3,228.35 1027.99,226.70 1032.84,226.70 1037.68,226.70 1042.53,226.70 1047.38,231.55 1047.38,243.59 1052.22,248.35 1052.22,266.41 1057.07,273.69 1057.07,286.89 1061.91,294.08 1066.76,303.79 1071.6,309.81 1071.6,301.36 1076.44,286.89 1076.44,284.17 1081.29,283.59 1081.29,265.24 1086.13,260.39 1086.13,242.33 1090.98,238.74 1090.98,231.55 1095.82,228.35 1095.82,228.54 1100.67,228.64 1100.67,229.90 1105.51,230.58 1105.51,237.28 1110.36,237.96 1110.36,238.74 1110.36,238.16 1115.2,238.06 1115.2,237.18 1120.05,236.80 1120.05,234.95 1124.89,234.56 1124.89,232.72 1129.74,232.43 1129.74,231.26 1134.59,230.97 1134.59,229.81 1139.43,229.51 1139.43,228.54 1144.28,228.54 1144.28,228.45 1149.12,228.35 1149.12,228.25 1153.96,228.25 1153.96,228.06 1158.81,228.06 1158.81,227.86 1163.65,227.86 1163.65,227.48 1168.5,227.38 1168.5,226.89 1173.34,226.80 1173.34,226.70 1173.34,226.89 1178.19,226.99 1178.19,227.38 1183.03,227.48 1183.03,227.77 1187.88,227.86 1187.88,231.84 1192.72,232.52 1192.72,236.60 1197.57,237.38 1197.57,243.30 1202.41,243.98 1202.41,248.93 1207.26,249.71 1207.26,253.59 1212.11,253.98 1212.11,256.02 1216.95,256.41 1216.95,256.80 1216.95,255.05 1221.8,254.56 1221.8,252.43 1226.64,251.94 1226.64,242.33 1231.48,237.57 1231.48,230.29 1236.33,229.90 1236.33,228.25 1241.17,227.86 1246.02,227.86 1250.87,227.86 1255.71,233.88 1260.55,244.76 1260.55,248.93 1265.4,249.71 1265.4,253.98 1270.24,254.37 1270.24,256.41 1275.09,256.80 1275.09,253.59 1279.93,253.01 1279.93,243.59 1284.78,238.74 1289.62,231.55 1289.62,230.49 1294.47,230.19 1294.47,229.13 1294.47,229.51 1299.32,229.90 1299.32,231.94 1304.16,232.33 1304.16,241.17 1309,247.18 1309,260.39 1313.85,265.24 1313.85,282.04 1318.69,288.06 1318.69,303.79 1323.54,309.81 1323.54,323.01 1328.38,330.19 1333.23,329.03 1333.23,320.58 1338.08,314.56 1338.08,296.50 1342.92,291.75 1342.92,265.24 1347.76,255.63 1347.76,226.70 1352.61,226.70 1352.61,248.35 1357.45,255.63 1357.45,263.98 1362.3,268.83 1362.3,280.87 1367.14,286.89 1371.99,306.12 1371.99,310.29 1376.84,310.97 1376.84,327.86 1381.68,332.62 1386.52,339.90 1391.37,333.88 1396.21,333.88 1401.06,333.88 1401.06,324.37 1405.9,323.98 1405.9,322.52 1410.75,322.23 1410.75,310.97 1415.6,306.12 1415.6,294.08 1420.44,289.32 1420.44,274.85 1425.28,271.26 1425.28,260.39 1430.13,256.70 1430.58,251.36 1433.11,245.73 1435.4,241.17 1437.36,237.96 1439.23,235.44 1441.06,233.30 1442.9,231.55 1444.76,230.00 1446.61,228.74 1448.45,227.96 1450.3,227.86 1452.21,228.54 1454.15,229.90 1456.02,231.75 1457.7,233.88 1459.15,236.60 1460.43,239.81 1461.6,243.11 1462.7,245.92 1463.57,248.25 1464.24,250.39 1465.07,252.14 1466.4,253.20 1468.55,253.79 1471.27,253.88 1474.02,253.30 1476.3,251.94 1477.94,249.42 1479.22,245.92 1480.29,242.14 1481.3,238.74 1482.2,235.63 1482.95,232.43 1483.67,229.81 1484.5,227.86 1488.7,227.86 1489.71,230.58 1490.71,234.37 1491.66,238.83 1492.5,243.59 1494.9,265.24 1495.67,269.81 1496.49,274.08 1497.46,277.86 1498.7,280.87 1500.33,283.30 1502.25,285.05 1504.25,286.12 1506.1,286.41 1507.71,285.92 1509.2,284.66 1510.69,282.62 1512.3,279.71 1514.06,275.53 1515.92,270.29 1517.81,264.66 1519.7,259.22 1521.6,253.88 1523.53,248.35 1525.41,243.20 1527.2,238.74 1528.76,235.15 1530.17,232.04 1531.64,229.61 1533.4,227.86 1535.68,226.99 1538.31,226.80 1540.88,227.09 1543,227.18 1547.5,227.48 1550,232.04 1550.71,233.50 1551.46,235.05 1552.27,236.50 1553.2,237.57 1558,237.67 1563.1,237.57 1564,232.52 1565,226.99 1570.8,226.80"/>
<polyline class="c" stroke="#ff00ff" points="43,129.32 49.31,129.32 54.15,129.32 54.15,129.42 59,129.42 63.84,129.42 68.69,129.42 73.53,129.42 73.53,129.51 78.38,129.51 83.22,129.51 88.07,129.51 92.91,129.51 92.91,129.61 97.76,129.61 102.6,129.61 107.45,129.61 112.29,129.61 112.29,129.71 117.14,129.71 121.98,129.71 126.83,129.71 131.67,129.71 131.67,129.81 136.51,129.81 141.36,129.81 141.36,130.29 146.21,130.49 146.21,130.97 151.05,131.07 151.05,131.65 155.9,131.75 155.9,132.43 160.74,132.52 160.74,133.11 165.59,133.20 165.59,134.37 170.43,134.76 170.43,135.92 175.28,136.21 175.28,137.77 180.12,138.06 180.12,139.22 184.97,139.51 184.97,141.07 189.81,141.36 189.81,143.30 194.66,143.69 194.66,145.34 199.5,145.83 199.5,147.86 204.34,148.25 204.34,150.39 209.19,150.78 209.19,152.43 214.03,152.82 214.03,155.05 218.88,155.44 218.88,157.67 223.72,158.06 223.72,160.29 228.57,160.78 228.57,162.91 233.41,163.40 233.41,165.15 238.26,165.53 238.26,167.77 243.1,168.25 243.1,170.49 247.95,170.87 247.95,173.11 252.79,173.59 252.79,175.73 257.64,176.21 257.64,178.45 262.49,178.83 262.49,180.49 267.33,180.78 267.33,182.23 272.18,182.52 272.18,183.69 277.02,183.98 277.02,185.15 281.87,185.44 281.87,186.60 286.71,186.89 286.71,188.16 291.56,188.16 291.56,188.45 296.4,188.45 296.4,188.74 301.25,188.74 301.25,189.03 306.09,188.93 306.09,188.25 310.94,188.16 310.94,187.67 315.78,187.57 315.78,187.09 320.62,186.99 320.62,185.73 325.47,185.44 325.47,184.08 330.31,183.79 330.31,182.14 335.16,181.84 335.16,180.49 340,180.19 340,177.18 344.85,176.60 344.85,174.08 349.69,173.59 349.69,171.07 354.54,170.58 354.54,168.06 359.38,167.48 359.38,164.95 364.23,164.47 364.23,161.84 369.07,161.36 369.07,158.74 373.92,158.16 373.92,155.53 378.76,155.05 378.76,151.84 383.61,151.36 383.61,148.74 388.45,148.16 388.45,146.12 393.3,145.73 393.3,144.08 398.14,143.69 398.14,141.75 402.99,141.36 402.99,139.61 407.83,139.22 407.83,137.77 412.68,137.48 412.68,135.63 417.52,135.34 417.52,134.17 422.37,133.88 422.37,132.52 427.21,132.23 427.21,131.07 432.06,130.78 432.06,129.61 436.9,129.42 436.9,128.54 441.75,128.35 441.75,127.38 446.6,127.18 451.44,127.18 456.28,127.18 461.13,127.18 461.13,128.45 465.97,129.13 465.97,133.01 470.82,133.69 470.82,135.63 475.66,148.83 480.51,159.71 485.35,164.47 485.35,164.56 490.2,164.56 490.2,164.66 495.04,164.76 495.04,164.85 499.89,164.95 504.73,160.87 509.58,148.83 514.42,142.82 514.42,142.33 519.27,142.14 519.27,140.97 524.12,140.78 524.12,139.90 528.96,139.71 528.96,137.86 533.81,137.38 533.81,135.05 538.65,134.56 538.65,132.52 543.5,132.23 543.5,130.87 548.34,130.58 548.34,129.22 553.18,129.13 553.18,128.35 558.03,128.16 558.03,127.67 562.88,127.67 567.72,127.67 572.57,127.67 577.41,127.67 582.25,127.67 587.1,127.67 591.94,127.67 596.79,127.67 601.63,127.67 606.48,127.67 611.33,127.67 616.17,127.67 621.01,127.67 625.86,127.67 630.7,127.67 635.55,127.67 640.39,127.67 645.24,127.67 650.09,127.67 654.93,127.67 659.77,127.67 664.62,127.67 669.46,127.67 674.31,127.67 679.15,127.67 684,127.67 688.85,127.67 693.69,127.67 698.53,127.67 703.38,127.67 708.22,127.67 713.07,127.67 717.91,127.67 722.76,127.67 727.61,127.67 732.45,127.67 737.29,127.67 742.14,127.67 746.99,127.67 751.83,127.67 756.67,127.67 761.52,127.67 766.37,127.67 771.21,127.67 776.05,127.67 780.9,127.67 785.75,127.67 790.59,127.67 795.43,127.67 800.28,127.67 805.12,127.67 809.97,127.67 814.81,127.67 819.66,127.67 824.5,127.67 829.35,127.67 834.19,127.67 839.04,127.67 839.04,127.57 843.88,127.57 848.73,127.57 853.57,127.57 858.42,127.57 863.26,127.57 868.11,127.57 872.95,127.57 877.8,127.57 882.64,127.57 887.49,127.57 892.33,127.57 897.18,127.57 902.02,127.57 906.87,127.57 911.71,127.57 916.56,127.57 921.4,127.57 921.4,127.48 926.25,127.48 931.09,127.48 935.94,127.48 940.78,127.48 945.63,127.48 950.47,127.48 955.32,127.48 960.16,127.48 960.16,127.67 965.01,127.77 965.01,128.45 969.85,128.54 969.85,128.74 974.7,128.74 979.54,128.74 984.39,128.74 989.24,128.74 994.08,128.74 998.92,128.74 1003.77,128.74 1008.62,128.74 1013.46,128.74 1018.3,128.74 1023.15,127.48 1027.99,127.48 1032.84,127.48 1037.68,127.48 1042.53,127.48 1047.38,127.48 1052.22,131.65 1052.22,137.18 1057.07,137.18 1061.91,127.96 1061.91,127.48 1066.76,137.67 1066.76,150.87 1071.6,155.73 1071.6,166.50 1076.44,176.60 1076.44,176.21 1081.29,176.02 1081.29,175.15 1086.13,174.95 1086.13,161.75 1090.98,153.30 1090.98,140.00 1095.82,130.39 1095.82,129.32 1100.67,129.03 1100.67,127.96 1105.51,129.22 1110.36,132.33 1110.36,132.23 1115.2,132.14 1115.2,131.65 1120.05,131.46 1120.05,130.87 1124.89,130.49 1124.89,129.03 1129.74,128.64 1129.74,127.48 1134.59,127.48 1134.59,127.57 1139.43,127.57 1144.28,127.57 1149.12,127.57 1149.12,127.67 1153.96,127.67 1158.81,127.67 1158.81,127.77 1163.65,127.77 1168.5,127.77 1173.34,127.77 1173.34,127.86 1178.19,127.86 1183.03,127.86 1183.03,127.96 1187.88,127.96 1192.72,128.64 1192.72,133.88 1197.57,134.56 1197.57,135.24 1202.41,146.02 1202.41,151.26 1207.26,152.04 1207.26,157.18 1212.11,157.67 1212.11,160.19 1216.95,160.68 1216.95,161.17 1216.95,158.93 1221.8,158.35 1221.8,155.05 1226.64,154.47 1226.64,144.85 1231.48,140.00 1231.48,130.39 1236.33,130.19 1236.33,129.42 1241.17,129.22 1241.17,131.65 1246.02,127.48 1246.02,127.77 1250.87,127.96 1250.87,129.22 1255.71,136.41 1260.55,144.85 1265.4,152.04 1265.4,152.82 1270.24,153.30 1270.24,155.34 1275.09,155.73 1275.09,152.52 1279.93,151.94 1279.93,139.22 1284.78,138.45 1284.78,133.20 1289.62,132.43 1289.62,129.32 1294.47,128.83 1294.47,127.48 1299.32,127.48 1304.16,127.48 1304.16,129.13 1309,129.61 1309,132.82 1313.85,133.59 1313.85,139.81 1318.69,140.58 1318.69,143.69 1323.54,156.89 1323.54,174.95 1328.38,183.40 1333.23,192.52 1338.08,193.01 1338.08,185.83 1342.92,182.14 1342.92,164.08 1347.76,159.32 1347.76,127.96 1352.61,126.80 1352.61,126.99 1357.45,127.09 1357.45,127.67 1362.3,127.86 1362.3,137.67 1367.14,143.69 1367.14,155.73 1371.99,161.75 1371.99,179.81 1376.84,186.99 1376.84,205.05 1381.68,211.07 1381.68,218.25 1386.52,218.25 1391.37,214.66 1396.21,223.11 1401.06,221.94 1401.06,211.84 1405.9,211.46 1405.9,209.42 1410.75,209.03 1410.75,200.19 1415.6,195.44 1415.6,184.56 1420.44,179.81 1420.44,168.93 1425.28,164.08 1430.13,152.04 1429.33,149.03 1431.23,144.66 1433.37,140.10 1435.4,136.41 1437.27,133.88 1439.15,131.94 1441.03,130.39 1442.9,129.22 1444.76,128.35 1446.61,127.77 1448.45,127.67 1450.3,127.96 1452.18,128.74 1454.08,130.00 1455.93,131.75 1457.7,133.98 1459.42,137.28 1461.11,141.36 1462.64,145.34 1463.9,148.45 1466.4,152.52 1468.2,151.36 1470.52,149.32 1472.96,146.89 1475.1,144.85 1476.91,143.40 1478.59,142.04 1480.07,140.68 1481.3,138.83 1482.16,136.12 1482.71,132.82 1483.18,129.61 1483.8,127.48 1487.5,127.48 1488.45,129.42 1489.42,132.23 1490.36,135.73 1491.2,140.00 1491.88,145.34 1492.45,151.65 1493.02,158.16 1493.7,164.08 1494.51,169.61 1495.39,174.95 1496.36,179.71 1497.4,183.40 1498.53,185.73 1499.74,186.89 1501.04,187.48 1502.4,187.67 1503.87,187.67 1505.43,187.38 1507.02,186.41 1508.6,184.56 1510.12,181.65 1511.62,177.77 1513.17,173.40 1514.8,168.93 1516.56,164.37 1518.42,159.42 1520.31,154.47 1522.2,149.71 1524.13,145.05 1526.11,140.39 1528.01,136.21 1529.7,132.82 1531.15,130.58 1532.44,129.13 1533.58,128.16 1534.6,127.48 1537.5,127.57 1540.8,127.57 1542.3,117.09 1543.9,127.67 1545.5,117.09 1547,127.67 1548.6,117.09 1550.2,127.67 1551.8,117.09 1552.2,127.67 1554.01,128.45 1556.58,128.35 1559.4,127.96 1562,127.86 1564.48,128.25 1567.01,128.74 1569.24,129.22 1570.8,129.51"/>
</g>
<line class="d" x1="320.8" y1="143.9" x2="320.8" y2="165.5"/>
<line class="d" x1="320.8" y1="197.2" x2="320.8" y2="218.8"/>
<line class="d" x1="320.8" y1="250.5" x2="320.8" y2="272.1"/>
<line class="d" x1="320.8" y1="303.8" x2="320.8" y2="325.4"/>
<line class="d" x1="320.8" y1="357.1" x2="320.8" y2="378.7"/>
<line class="d" x1="320.8" y1="410.4" x2="320.8" y2="432.0"/>
<line class="d" x1="320.8" y1="463.7" x2="320.8" y2="485.3"/>
<line class="d" x1="320.8" y1="517.0" x2="320.8" y2="538.6"/>
<line class="d" x1="320.8" y1="570.3" x2="320.8" y2="591.9"/>
<line class="d" x1="320.8" y1="623.6" x2="320.8" y2="645.2"/>
<line class="d" x1="320.8" y1="676.9" x2="320.8" y2="698.5"/>
<line class="d" x1="320.8" y1="730.2" x2="320.8" y2="751.8"/>
<line class="d" x1="320.8" y1="783.5" x2="320.8" y2="805.1"/>
<line class="d" x1="320.8" y1="836.8" x2="320.8" y2="858.4"/>
<line class="d" x1="320.8" y1="890.1" x2="320.8" y2="911.7"/>
<line class="d" x1="320.8" y1="943.4" x2="320.8" y2="965.0"/>
<line class="d" x1="320.8" y1="996.7" x2="320.8" y2="1018.3"/>
<line class="d" x1="320.8" y1="1050.0" x2="320.8" y2="1071.0"/>
<line class="d" x1="493.8" y1="117.1" x2="493.8" y2="138.7"/>
<line class="d" x1="493.8" y1="170.4" x2="493.8" y2="192.0"/>
<line class="d" x1="493.8" y1="223.7" x2="493.8" y2="245.3"/>
<line class="d" x1="493.8" y1="277.0" x2="493.8" y2="298.6"/>
<line class="d" x1="493.8" y1="330.3" x2="493.8" y2="351.9"/>
<line class="d" x1="493.8" y1="383.6" x2="493.8" y2="405.2"/>
<line class="d" x1="493.8" y1="436.9" x2="493.8" y2="458.5"/>
<line class="d" x1="493.8" y1="490.2" x2="493.8" y2="511.8"/>
<line class="d" x1="493.8" y1="543.5" x2="493.8" y2="565.1"/>
<line class="d" x1="493.8" y1="596.8" x2="493.8" y2="618.4"/>
<line class="d" x1="493.8" y1="650.1" x2="493.8" y2="671.7"/>
<line class="d" x1="493.8" y1="703.4" x2="493.8" y2="725.0"/>
<line class="d" x1="493.8" y1="756.7" x2="493.8" y2="778.3"/>
<line class="d" x1="493.8" y1="810.0" x2="493.8" y2="831.6"/>
<line class="d" x1="493.8" y1="863.3" x2="493.8" y2="884.9"/>
<line class="d" x1="493.8" y1="916.6" x2="493.8" y2="938.2"/>
<line class="d" x1="493.8" y1="969.9" x2="493.8" y2="991.0"/>
<line class="d" x1="1078.5" y1="103.1" x2="1078.5" y2="124.7"/>
<line class="d" x1="1078.5" y1="156.4" x2="1078.5" y2="178.0"/>
<line class="d" x1="1078.5" y1="209.7" x2="1078.5" y2="231.3"/>
<line class="d" x1="1078.5" y1="263.0" x2="1078.5" y2="284.6"/>
<line class="d" x1="1078.5" y1="316.3" x2="1078.5" y2="337.9"/>
<line class="d" x1="1078.5" y1="369.6" x2="1078.5" y2="391.2"/>
<line class="d" x1="1078.5" y1="422.9" x2="1078.5" y2="444.5"/>
<line class="d" x1="1078.5" y1="476.2" x2="1078.5" y2="497.8"/>
<line class="d" x1="1078.5" y1="529.5" x2="1078.5" y2="551.1"/>
<line class="d" x1="1078.5" y1="582.8" x2="1078.5" y2="604.4"/>
<line class="d" x1="1078.5" y1="636.1" x2="1078.5" y2="657.7"/>
<line class="d" x1="1078.5" y1="689.4" x2="1078.5" y2="711.0"/>
<line class="d" x1="1078.5" y1="742.7" x2="1078.5" y2="764.3"/>
<line class="d" x1="1078.5" y1="796.0" x2="1078.5" y2="817.6"/>
<line class="d" x1="1078.5" y1="849.3" x2="1078.5" y2="857.5"/>
<line class="d" x1="1154.4" y1="120.0" x2="1154.4" y2="141.6"/>
<line class="d" x1="1154.4" y1="173.3" x2="1154.4" y2="194.9"/>
<line class="d" x1="1154.4" y1="226.6" x2="1154.4" y2="248.2"/>
<line class="d" x1="1154.4" y1="279.9" x2="1154.4" y2="301.5"/>
<line class="d" x1="1154.4" y1="333.2" x2="1154.4" y2="354.8"/>
<line class="d" x1="1154.4" y1="386.5" x2="1154.4" y2="408.1"/>
<line class="d" x1="1154.4" y1="439.8" x2="1154.4" y2="461.4"/>
<line class="d" x1="1154.4" y1="493.1" x2="1154.4" y2="514.7"/>
<line class="d" x1="1154.4" y1="546.4" x2="1154.4" y2="568.0"/>
<line class="d" x1="1154.4" y1="599.7" x2="1154.4" y2="621.3"/>
<line class="d" x1="1154.4" y1="653.0" x2="1154.4" y2="674.6"/>
<line class="d" x1="1154.4" y1="706.3" x2="1154.4" y2="727.9"/>
<line class="d" x1="1154.4" y1="759.6" x2="1154.4" y2="781.2"/>
<line class="d" x1="1154.4" y1="812.9" x2="1154.4" y2="834.5"/>
<line class="d" x1="1154.4" y1="866.2" x2="1154.4" y2="887.8"/>
<line class="d" x1="1154.4" y1="919.5" x2="1154.4" y2="941.0"/>
<line class="d" x1="1268.8" y1="111.8" x2="1268.8" y2="133.4"/>
<line class="d" x1="1268.8" y1="165.1" x2="1268.8" y2="186.7"/>
<line class="d" x1="1268.8" y1="218.4" x2="1268.8" y2="240.0"/>
<line class="d" x1="1268.8" y1="271.7" x2="1268.8" y2="293.3"/>
<line class="d" x1="1268.8" y1="325.0" x2="1268.8" y2="346.6"/>
<line class="d" x1="1268.8" y1="378.3" x2="1268.8" y2="399.9"/>
<line class="d" x1="1268.8" y1="431.6" x2="1268.8" y2="453.2"/>
<line class="d" x1="1268.8" y1="484.9" x2="1268.8" y2="506.5"/>
<line class="d" x1="1268.8" y1="538.2" x2="1268.8" y2="559.8"/>
<line class="d" x1="1268.8" y1="591.5" x2="1268.8" y2="613.1"/>
<line class="d" x1="1268.8" y1="644.8" x2="1268.8" y2="666.4"/>
<line class="d" x1="1268.8" y1="698.1" x2="1268.8" y2="719.7"/>
<line class="d" x1="1268.8" y1="751.4" x2="1268.8" y2="773.0"/>
<line class="d" x1="1268.8" y1="804.7" x2="1268.8" y2="826.3"/>
<line class="d" x1="1268.8" y1="858.0" x2="1268.8" y2="879.6"/>
<line class="d" x1="1268.8" y1="911.3" x2="1268.8" y2="931.5"/>
<text transform="translate(212.8 1210.4) scale(1.025 1)" font-size="71" text-anchor="middle">3500</text>
<text transform="translate(455.05 1210.4) scale(1.025 1)" font-size="71" text-anchor="middle">3000</text>
<text transform="translate(697.3 1210.4) scale(1.025 1)" font-size="71" text-anchor="middle">2500</text>
<text transform="translate(939.55 1210.4) scale(1.025 1)" font-size="71" text-anchor="middle">2000</text>
<text transform="translate(1181.8 1210.4) scale(1.025 1)" font-size="71" text-anchor="middle">1500</text>
<text transform="translate(1424.05 1210.4) scale(1.025 1)" font-size="71" text-anchor="middle">1000</text>
<text transform="translate(61.5 111.5) scale(1.09 1)" font-size="66">(f)</text>
<text transform="translate(57.5 211.5) scale(1.09 1)" font-size="66">(e)</text>
<text transform="translate(51.5 328.5) scale(1.09 1)" font-size="66">(d)</text>
<text transform="translate(59 418.5) scale(1.09 1)" font-size="66">(c)</text>
<text transform="translate(54.5 520) scale(1.09 1)" font-size="66">(b)</text>
<text transform="translate(57.5 662.5) scale(1.09 1)" font-size="66">(a)</text>
<text transform="translate(241.2 112.7) scale(1.035 1)" font-size="65">3279</text>
<text transform="translate(427.3 105.5) scale(1.035 1)" font-size="65">2909</text>
<text transform="translate(1004 97.8) scale(1.03 1)" font-size="65">1712</text>
<text transform="translate(1203 102.9) scale(1.03 1)" font-size="65">1320</text>
<text transform="translate(1080.5 1010) scale(1.03 1)" font-size="65">1642</text>
<text transform="translate(503.3 1332.5) scale(1.036 1)" font-size="68.7">Wavenumber (cm<tspan font-size="42" dy="-33.5">-1</tspan><tspan dy="33.5">)</tspan></text>
</svg></body></html>
